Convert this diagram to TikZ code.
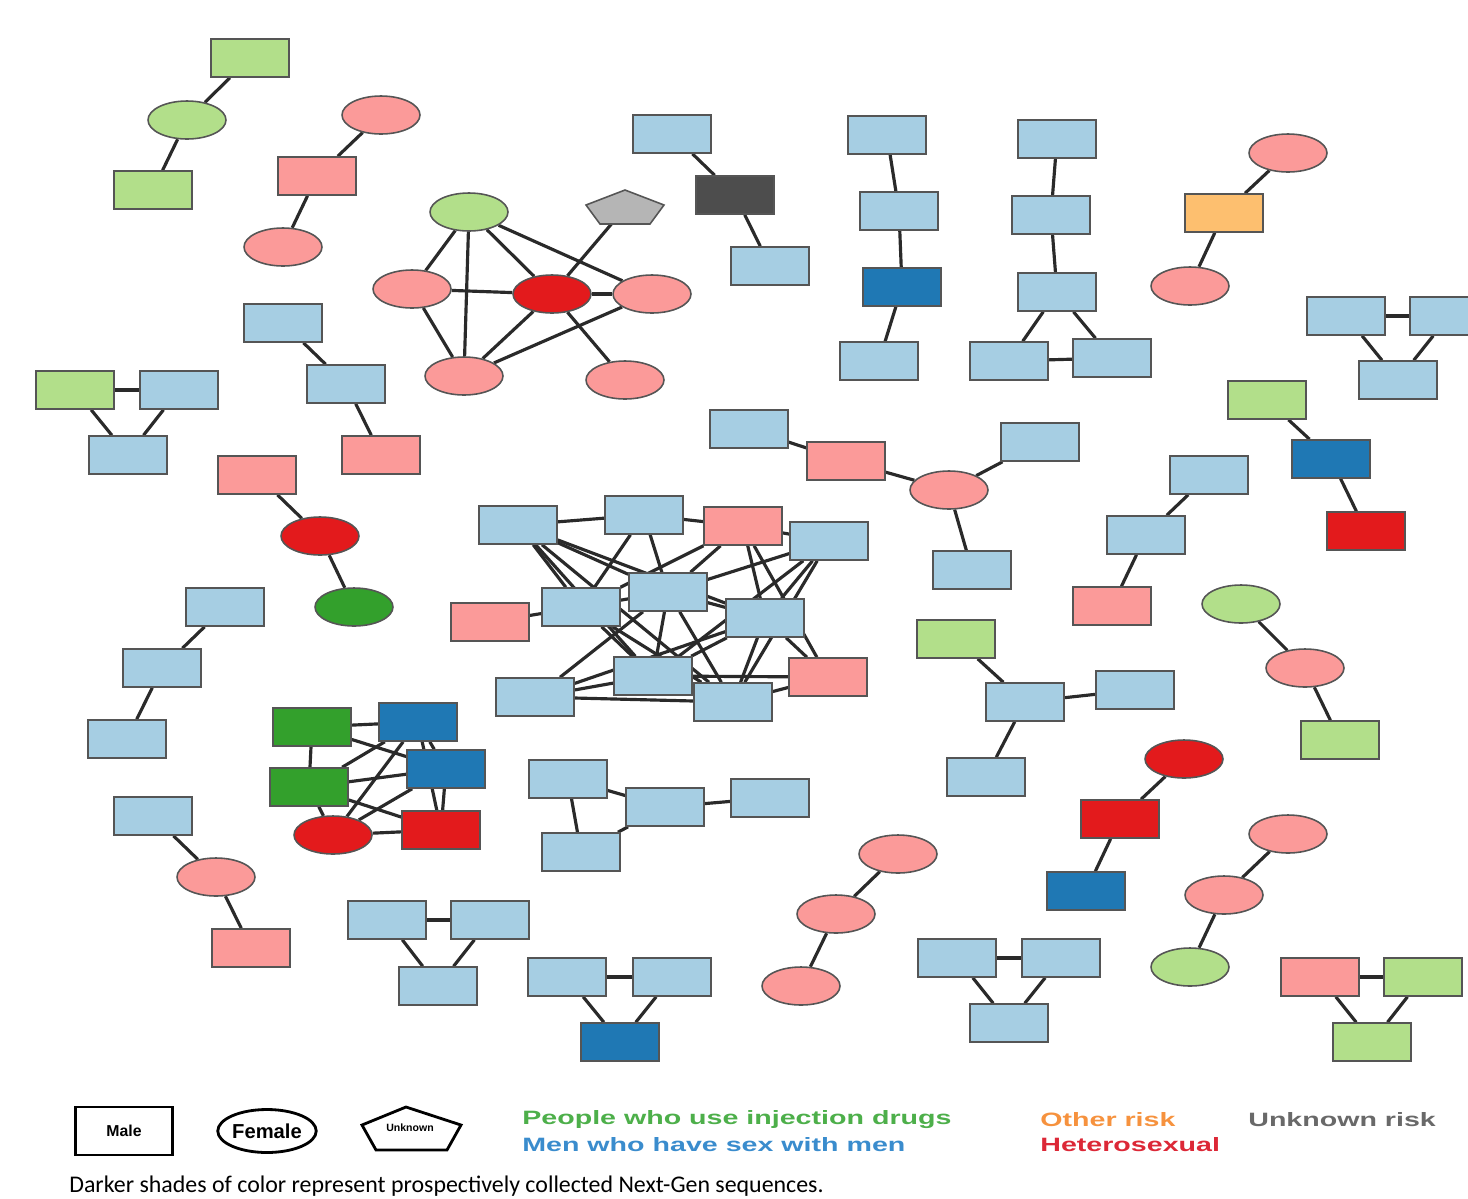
\documentclass[tikz,border=0pt]{standalone}
\usepackage{fontspec}
\usepackage{graphicx}
\setsansfont{Liberation Sans}
\newfontfamily\capfont{Carlito}
\usetikzlibrary{shapes.geometric,backgrounds}

\definecolor{lblue}{HTML}{A6CEE3}
\definecolor{dblue}{HTML}{1F78B4}
\definecolor{lgreen}{HTML}{B2DF8A}
\definecolor{dgreen}{HTML}{33A02C}
\definecolor{lpink}{HTML}{FB9A99}
\definecolor{dred}{HTML}{E31A1C}
\definecolor{lorange}{HTML}{FDBF6F}
\definecolor{dgray}{HTML}{4D4D4D}
\definecolor{lgray}{HTML}{B5B5B5}
\definecolor{bord}{HTML}{555555}
\definecolor{edgec}{HTML}{2A2A2A}
\definecolor{txgreen}{RGB}{77,175,74}
\definecolor{txblue}{RGB}{58,140,205}
\definecolor{txorange}{RGB}{246,146,62}
\definecolor{txred}{RGB}{220,40,55}
\definecolor{txgray}{RGB}{105,105,105}

\newcommand{\wide}[1]{\scalebox{1.48}[1]{#1}}

\begin{document}
\begin{tikzpicture}[
  x=0.02cm, y=-0.02cm,
  male/.style={rectangle, draw=bord, line width=0.9pt, minimum width=1.56cm, minimum height=0.76cm, inner sep=0pt},
  female/.style={ellipse, draw=bord, line width=0.9pt, minimum width=1.56cm, minimum height=0.76cm, inner sep=0pt},
  mlb/.style={male, fill=lblue}, mdb/.style={male, fill=dblue},
  mlg/.style={male, fill=lgreen}, mdg/.style={male, fill=dgreen},
  mpk/.style={male, fill=lpink}, mrd/.style={male, fill=dred},
  fpk/.style={female, fill=lpink}, frd/.style={female, fill=dred},
  flg/.style={female, fill=lgreen}, fdg/.style={female, fill=dgreen},
  link/.style={draw=edgec, line width=1.8pt},
  legtxt/.style={anchor=west, inner sep=0pt, font=\sffamily\bfseries\fontsize{11}{12}\selectfont}
]
  \useasboundingbox (0,0) rectangle (1468,1198);

  % clusters of two or three
  \node[mlg] (a1) at (250,58) {};
  \node[flg] (a2) at (187,120) {};
  \node[mlg] (a3) at (153,190) {};

  \node[fpk] (b1) at (381,115) {};
  \node[mpk] (b2) at (317,176) {};
  \node[fpk] (b3) at (283,247) {};

  \node[mlb] (d1) at (672,134) {};
  \node[male, fill=dgray] (d2) at (735,195) {};
  \node[mlb] (d3) at (770,266) {};

  \node[mlb] (e1) at (887,135) {};
  \node[mlb] (e2) at (899,211) {};
  \node[mdb] (e3) at (902,287) {};
  \node[mlb] (e4) at (879,361) {};

  \node[mlb] (f1) at (1057,139) {};
  \node[mlb] (f2) at (1051,215) {};
  \node[mlb] (f3) at (1057,292) {};
  \node[mlb] (f4) at (1009,361) {};
  \node[mlb] (f5) at (1112,358) {};

  \node[fpk] (g1) at (1288,153) {};
  \node[male, fill=lorange] (g2) at (1224,213) {};
  \node[fpk] (g3) at (1190,286) {};

  \node[mlb] (h1) at (1346,316) {};
  \node[mlb] (h2) at (1449,316) {};
  \node[mlb] (h3) at (1398,380) {};

  \node[mlg] (i1) at (75,390) {};
  \node[mlb] (i2) at (179,390) {};
  \node[mlb] (i3) at (128,455) {};

  \node[mlb] (j1) at (283,323) {};
  \node[mlb] (j2) at (346,384) {};
  \node[mpk] (j3) at (381,455) {};

  \node[mpk] (k1) at (257,475) {};
  \node[frd] (k2) at (320,536) {};
  \node[fdg] (k3) at (354,607) {};

  \node[mlb] (l1) at (749,429) {};
  \node[mpk] (l2) at (846,461) {};
  \node[fpk] (l3) at (949,490) {};
  \node[mlb] (l4) at (1040,442) {};
  \node[mlb] (l5) at (972,570) {};

  \node[mlg] (m1) at (1267,400) {};
  \node[mdb] (m2) at (1331,459) {};
  \node[mrd] (m3) at (1366,531) {};

  \node[mlb] (n1) at (1209,475) {};
  \node[mlb] (n2) at (1146,535) {};
  \node[mpk] (n3) at (1112,606) {};

  \node[mlb] (p1) at (225,607) {};
  \node[mlb] (p2) at (162,668) {};
  \node[mlb] (p3) at (127,739) {};

  \node[mlb] (r1) at (568,779) {};
  \node[mlb] (r2) at (665,807) {};
  \node[mlb] (r3) at (770,798) {};
  \node[mlb] (r4) at (581,852) {};

  \node[mlg] (s1) at (956,639) {};
  \node[mlb] (s2) at (1025,702) {};
  \node[mlb] (s3) at (1135,690) {};
  \node[mlb] (s4) at (986,777) {};

  \node[flg] (t1) at (1241,604) {};
  \node[fpk] (t2) at (1305,668) {};
  \node[mlg] (t3) at (1340,740) {};

  \node[mlb] (u1) at (153,816) {};
  \node[fpk] (u2) at (216,877) {};
  \node[mpk] (u3) at (251,948) {};

  \node[mlb] (v1) at (387,920) {};
  \node[mlb] (v2) at (490,920) {};
  \node[mlb] (v3) at (438,986) {};

  \node[mlb] (w1) at (567,977) {};
  \node[mlb] (w2) at (672,977) {};
  \node[mdb] (w3) at (620,1042) {};

  \node[fpk] (x1) at (898,854) {};
  \node[fpk] (x2) at (836,914) {};
  \node[fpk] (x3) at (801,986) {};

  \node[frd] (y1) at (1184,759) {};
  \node[mrd] (y2) at (1120,819) {};
  \node[mdb] (y3) at (1086,891) {};

  \node[mlb] (z1) at (957,958) {};
  \node[mlb] (z2) at (1061,958) {};
  \node[mlb] (z3) at (1009,1023) {};

  \node[fpk] (tt1) at (1288,834) {};
  \node[fpk] (tt2) at (1224,895) {};
  \node[flg] (tt3) at (1190,967) {};

  \node[mpk] (ww1) at (1320,977) {};
  \node[mlg] (ww2) at (1423,977) {};
  \node[mlg] (ww3) at (1372,1042) {};

  % cluster with unknown sex
  \node[flg] (c1) at (469,212) {};
  \coordinate (c2) at (625,208);
  \node[fpk] (c3) at (412,289) {};
  \node[frd] (c4) at (552,294) {};
  \node[fpk] (c5) at (652,294) {};
  \node[fpk] (c6) at (464,376) {};
  \node[fpk] (c7) at (625,380) {};
  \draw[bord, line width=0.9pt, fill=lgray] (625,190) -- (664,205) -- (650,224) -- (600,224) -- (586,205) -- cycle;

  % dense cluster
  \node[mlb] (o1) at (518,525) {};
  \node[mlb] (o2) at (644,515) {};
  \node[mpk] (o3) at (743,526) {};
  \node[mlb] (o4) at (829,541) {};
  \node[mlb] (o5) at (668,592) {};
  \node[mlb] (o6) at (581,607) {};
  \node[mpk] (o7) at (490,622) {};
  \node[mlb] (o8) at (765,618) {};
  \node[mlb] (o9) at (653,676) {};
  \node[mpk] (o10) at (828,677) {};
  \node[mlb] (o11) at (535,697) {};
  \node[mlb] (o12) at (733,702) {};

  % next-gen cluster
  \node[mdg] (q1) at (312,727) {};
  \node[mdb] (q2) at (418,722) {};
  \node[mdb] (q3) at (446,769) {};
  \node[mdg] (q4) at (309,787) {};
  \node[frd] (q5) at (333,835) {};
  \node[mrd] (q6) at (441,830) {};

  \begin{scope}[on background layer]
    \draw[link] (a1) -- (a2);
    \draw[link] (a2) -- (a3);
    \draw[link] (b1) -- (b2);
    \draw[link] (b2) -- (b3);
    \draw[link] (d1) -- (d2);
    \draw[link] (d2) -- (d3);
    \draw[link] (e1) -- (e2);
    \draw[link] (e2) -- (e3);
    \draw[link] (e3) -- (e4);
    \draw[link] (f1) -- (f2);
    \draw[link] (f2) -- (f3);
    \draw[link] (f3) -- (f4);
    \draw[link] (f3) -- (f5);
    \draw[link] (f4) -- (f5);
    \draw[link] (g1) -- (g2);
    \draw[link] (g2) -- (g3);
    \draw[link] (h1) -- (h2);
    \draw[link] (h1) -- (h3);
    \draw[link] (h2) -- (h3);
    \draw[link] (i1) -- (i2);
    \draw[link] (i1) -- (i3);
    \draw[link] (i2) -- (i3);
    \draw[link] (j1) -- (j2);
    \draw[link] (j2) -- (j3);
    \draw[link] (k1) -- (k2);
    \draw[link] (k2) -- (k3);
    \draw[link] (l1) -- (l2);
    \draw[link] (l2) -- (l3);
    \draw[link] (l3) -- (l4);
    \draw[link] (l3) -- (l5);
    \draw[link] (m1) -- (m2);
    \draw[link] (m2) -- (m3);
    \draw[link] (n1) -- (n2);
    \draw[link] (n2) -- (n3);
    \draw[link] (p1) -- (p2);
    \draw[link] (p2) -- (p3);
    \draw[link] (r1) -- (r2);
    \draw[link] (r1) -- (r4);
    \draw[link] (r2) -- (r4);
    \draw[link] (r2) -- (r3);
    \draw[link] (s1) -- (s2);
    \draw[link] (s2) -- (s3);
    \draw[link] (s2) -- (s4);
    \draw[link] (t1) -- (t2);
    \draw[link] (t2) -- (t3);
    \draw[link] (u1) -- (u2);
    \draw[link] (u2) -- (u3);
    \draw[link] (v1) -- (v2);
    \draw[link] (v1) -- (v3);
    \draw[link] (v2) -- (v3);
    \draw[link] (w1) -- (w2);
    \draw[link] (w1) -- (w3);
    \draw[link] (w2) -- (w3);
    \draw[link] (x1) -- (x2);
    \draw[link] (x2) -- (x3);
    \draw[link] (y1) -- (y2);
    \draw[link] (y2) -- (y3);
    \draw[link] (z1) -- (z2);
    \draw[link] (z1) -- (z3);
    \draw[link] (z2) -- (z3);
    \draw[link] (tt1) -- (tt2);
    \draw[link] (tt2) -- (tt3);
    \draw[link] (ww1) -- (ww2);
    \draw[link] (ww1) -- (ww3);
    \draw[link] (ww2) -- (ww3);

    \draw[link] (c1) -- (c3);
    \draw[link] (c1) -- (c6);
    \draw[link] (c1) -- (c4);
    \draw[link] (c1) -- (c5);
    \draw[link] (c2) -- (c4);
    \draw[link] (c3) -- (c4);
    \draw[link] (c3) -- (c6);
    \draw[link] (c4) -- (c5);
    \draw[link] (c4) -- (c6);
    \draw[link] (c4) -- (c7);
    \draw[link] (c5) -- (c6);

    \draw[link] (o1) -- (o2);
    \draw[link] (o2) -- (o3);
    \draw[link] (o3) -- (o4);
    \draw[link] (o1) -- (o5);
    \draw[link] (o1) -- (o8);
    \draw[link] (o1) -- (o6);
    \draw[link] (o1) -- (o9);
    \draw[link] (o1) -- (o12);
    \draw[link] (o2) -- (o6);
    \draw[link] (o2) -- (o5);
    \draw[link] (o3) -- (o5);
    \draw[link] (o3) -- (o6);
    \draw[link] (o3) -- (o8);
    \draw[link] (o3) -- (o10);
    \draw[link] (o4) -- (o5);
    \draw[link] (o4) -- (o8);
    \draw[link] (o4) -- (o12);
    \draw[link] (o4) -- (o9);
    \draw[link] (o5) -- (o6);
    \draw[link] (o5) -- (o8);
    \draw[link] (o5) -- (o11);
    \draw[link] (o5) -- (o9);
    \draw[link] (o5) -- (o12);
    \draw[link] (o6) -- (o7);
    \draw[link] (o6) -- (o9);
    \draw[link] (o6) -- (o12);
    \draw[link] (o8) -- (o9);
    \draw[link] (o8) -- (o11);
    \draw[link] (o8) -- (o10);
    \draw[link] (o8) -- (o12);
    \draw[link] (o9) -- (o11);
    \draw[link] (o9) -- (o12);
    \draw[link] (o9) -- (o10);
    \draw[link] (o11) -- (o12);
    \draw[link] (o12) -- (o10);

    \draw[link] (q1) -- (q2);
    \draw[link] (q1) -- (q4);
    \draw[link] (q1) -- (q3);
    \draw[link] (q4) -- (q2);
    \draw[link] (q4) -- (q3);
    \draw[link] (q4) -- (q5);
    \draw[link] (q4) -- (q6);
    \draw[link] (q5) -- (q2);
    \draw[link] (q5) -- (q3);
    \draw[link] (q5) -- (q6);
    \draw[link] (q2) -- (q3);
    \draw[link] (q3) -- (q6);
    \draw[link] (q2) -- (q6);
  \end{scope}

  % legend
  \node[draw=black, line width=1.6pt, minimum width=1.94cm, minimum height=0.96cm, font=\sffamily\bfseries\fontsize{9}{10}\selectfont] (kmale) at (124,1131) {Male};
  \node[ellipse, draw=black, line width=1.6pt, minimum width=1.94cm, minimum height=0.86cm, inner sep=0pt, font=\sffamily\bfseries\fontsize{11.5}{12}\selectfont] (kfemale) at (267,1131) {Female};
  \draw[black, line width=1.6pt] (406,1107) -- (461,1125) -- (447,1150) -- (376,1150) -- (362,1125) -- cycle;
  \node[font=\sffamily\bfseries\fontsize{6}{7}\selectfont] (kunknown) at (410,1128) {Unknown};

  \node[legtxt, text=txgreen] (kidu) at (522,1120) {\wide{People who use injection drugs}};
  \node[legtxt, text=txblue] (kmsm) at (522,1145) {\wide{Men who have sex with men}};
  \node[legtxt, text=txorange] (kother) at (1040,1120) {\wide{Other risk}};
  \node[legtxt, text=txred] (khet) at (1040,1145) {\wide{Heterosexual}};
  \node[legtxt, text=txgray] (kunk) at (1248,1120) {\wide{Unknown risk}};

  \node[anchor=west, inner sep=0pt, font=\capfont\fontsize{13.6}{15}\selectfont] (caption) at (69,1186) {Darker shades of color represent prospectively collected Next-Gen sequences.};
\end{tikzpicture}
\end{document}
